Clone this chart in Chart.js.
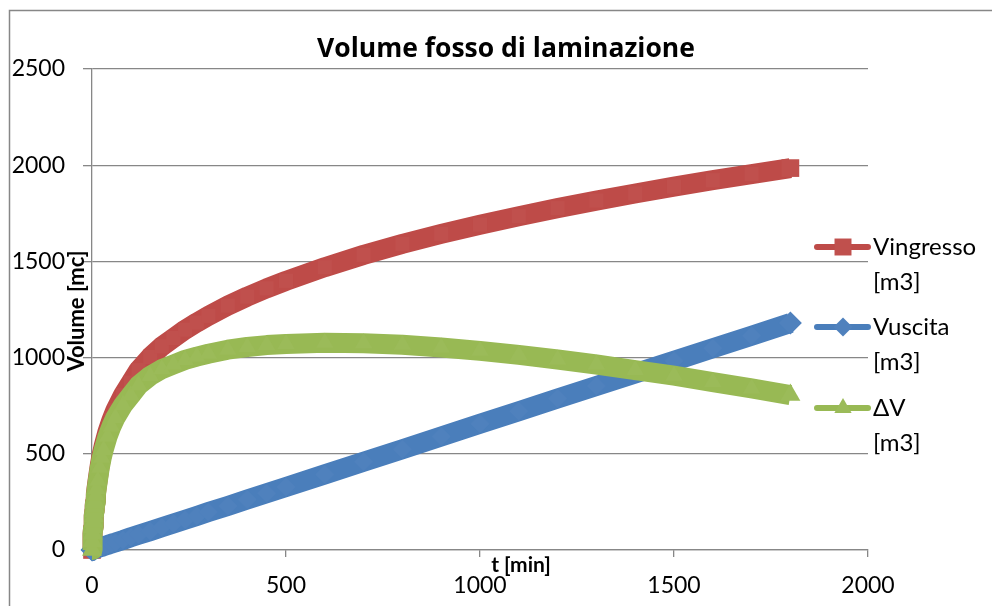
<!DOCTYPE html>
<html>
<head>
<meta charset="utf-8">
<script src="https://cdn.jsdelivr.net/npm/chart.js@4.4.1/dist/chart.umd.min.js"></script>
<style>
  html, body { margin: 0; padding: 0; background: #ffffff; }
  #wrap { width: 992px; height: 606px; position: relative; }
</style>
</head>
<body>
<div id="wrap"><canvas id="c" width="992" height="606"></canvas></div>
<script>
// Time steps [min]
const tMin = [0, 1, 2, 3, 4, 5, 6, 7, 8, 10, 12, 15, 20, 25, 30, 40, 50, 60, 80, 100, 120,
  150, 180, 210, 240, 270, 300, 350, 400, 450, 500, 600, 700, 800, 900, 1000,
  1100, 1200, 1300, 1400, 1500, 1600, 1700, 1800];
// Inflow volume [m3]
const vIngresso = [0, 45, 85, 120, 150, 178, 205, 230, 252, 292, 325, 370, 440, 495, 540, 615, 675, 725, 805, 870, 935,
  1003, 1058, 1102, 1145, 1182, 1217, 1270, 1317, 1360, 1399, 1470, 1534, 1591, 1643, 1691,
  1735, 1777, 1816, 1853, 1889, 1922, 1954, 1985];
// Outflow volume [m3]
const vUscita = [0, 1, 1, 2, 3, 3, 4, 5, 5, 7, 8, 10, 13, 16, 20, 26, 33, 39, 52, 66, 79,
  98, 118, 138, 157, 177, 197, 229, 262, 295, 328, 393, 459, 524, 590, 656,
  721, 787, 852, 918, 983, 1049, 1114, 1180];
// Stored volume [m3]
const deltaV = [0, 44, 84, 118, 147, 175, 201, 225, 247, 285, 317, 360, 427, 479, 520, 589, 642, 686, 753, 804, 856,
  905, 940, 964, 988, 1005, 1020, 1041, 1055, 1065, 1071, 1077, 1075, 1067, 1053, 1035,
  1014, 990, 964, 935, 906, 873, 840, 805];

const xTicks = [0, 500, 1000, 1500, 2000];
const yTicks = [0, 500, 1000, 1500, 2000, 2500];
const seriesNames = [['Vingresso', '[m3]'], ['Vuscita', '[m3]'], ['\u0394V', '[m3]']];
const chartTitle = 'Volume fosso di laminazione';
const xTitle = 't [min]';
const yTitle = 'Volume [mc]';

const FONT = 'Lato, "Open Sans", sans-serif';
const TITLE_FONT = '"Open Sans", Lato, sans-serif';
const GRID = '#878787';
const colors = [
  { line: '#BE4B48', mark: '#C0504D', style: 'rect', r: 12.5, rIn: 10 },
  { line: '#4A7EBB', mark: '#4F81BD', style: 'rectRot', r: 11.5, rIn: 9.5 },
  { line: '#98B954', mark: '#9BBB59', style: 'triangle', r: 11.5, rIn: 10 }
];

function pts(vals) { return tMin.map((t, i) => ({ x: t, y: vals[i] })); }

const last = tMin.length - 1;
const seriesVals = [vIngresso, vUscita, deltaV];
const datasets = seriesVals.map((vals, i) => ({
  label: seriesNames[i].join(' '),
  data: pts(vals),
  showLine: true,
  borderColor: colors[i].line,
  borderWidth: 20,
  borderJoinStyle: 'round',
  backgroundColor: colors[i].mark,
  pointBackgroundColor: colors[i].mark,
  pointBorderColor: colors[i].mark,
  pointBorderWidth: 0,
  pointStyle: colors[i].style,
  // markers merge into the thick band; the end markers keep their full size
  pointRadius: c => (c.dataIndex === last || c.dataIndex < 9) ? colors[i].r : colors[i].rIn,
  pointHoverRadius: colors[i].r,
  clip: false,
  order: 2 - i
}));

function marker(ctx, style, x, y, r, color) {
  ctx.save();
  ctx.fillStyle = color;
  ctx.beginPath();
  if (style === 'rect') {
    const s = r * Math.SQRT1_2;
    ctx.rect(x - s, y - s, 2 * s, 2 * s);
  } else if (style === 'rectRot') {
    ctx.moveTo(x, y - r); ctx.lineTo(x + r, y); ctx.lineTo(x, y + r); ctx.lineTo(x - r, y);
    ctx.closePath();
  } else {
    const a = Math.PI * 2 / 3;
    ctx.moveTo(x, y - r);
    ctx.lineTo(x + Math.sin(a) * r, y - Math.cos(a) * r);
    ctx.lineTo(x + Math.sin(2 * a) * r, y - Math.cos(2 * a) * r);
    ctx.closePath();
  }
  ctx.fill();
  ctx.restore();
}

const decor = {
  id: 'decor',
  beforeDraw(chart) {
    const ctx = chart.ctx;
    ctx.save();
    ctx.fillStyle = '#ffffff';
    ctx.fillRect(0, 0, chart.width, chart.height);
    ctx.strokeStyle = GRID;
    ctx.lineWidth = 1.5;
    ctx.strokeRect(9.5, 10.5, 1100, 700);
    ctx.restore();
  },
  afterDraw(chart) {
    const ctx = chart.ctx;
    ctx.save();
    ctx.fillStyle = '#000000';
    // chart title
    ctx.font = 'bold 26.5px ' + TITLE_FONT;
    ctx.textAlign = 'center';
    ctx.textBaseline = 'middle';
    ctx.fillText(chartTitle, 506, 49);
    // axis titles
    ctx.font = 'bold 21px ' + FONT;
    ctx.fillText(xTitle, 521, 565);
    ctx.save();
    ctx.translate(77, 311);
    ctx.rotate(-Math.PI / 2);
    ctx.font = 'bold 22px ' + FONT;
    ctx.fillText(yTitle, 0, 0);
    ctx.restore();
    // legend
    const rows = [247, 327, 408];
    ctx.font = '24px ' + FONT;
    ctx.textAlign = 'left';
    rows.forEach((y, i) => {
      ctx.strokeStyle = colors[i].line;
      ctx.lineWidth = 6;
      ctx.lineCap = 'round';
      ctx.beginPath();
      ctx.moveTo(817, y);
      ctx.lineTo(868, y);
      ctx.stroke();
      marker(ctx, colors[i].style, 843, y, colors[i].style === 'rect' ? 12 : (colors[i].style === 'rectRot' ? 9.5 : 10), colors[i].mark);
      ctx.fillStyle = '#000000';
      ctx.fillText(seriesNames[i][0], 873, y);
      ctx.fillText(seriesNames[i][1], 873, y + 35);
    });
    ctx.restore();
  }
};

new Chart(document.getElementById('c'), {
  type: 'scatter',
  data: { datasets },
  options: {
    responsive: false,
    devicePixelRatio: 1,
    animation: false,
    layout: { padding: { left: 0, top: 69, right: 124, bottom: 0 } },
    plugins: { legend: { display: false }, tooltip: { enabled: false }, title: { display: false } },
    scales: {
      x: {
        type: 'linear',
        min: xTicks[0],
        max: xTicks[xTicks.length - 1],
        afterFit(scale) { scale.height = 56; },
        afterBuildTicks(scale) { scale.ticks = xTicks.map(v => ({ value: v })); },
        ticks: { color: '#000', font: { family: FONT, size: 23 }, padding: 15, maxRotation: 0,
          callback: v => String(v) },
        grid: { drawOnChartArea: false, drawTicks: true, tickLength: 7, color: GRID, lineWidth: 1.3 },
        border: { display: true, color: GRID, width: 1.3 }
      },
      y: {
        type: 'linear',
        min: yTicks[0],
        max: yTicks[yTicks.length - 1],
        afterFit(scale) { scale.width = 92; },
        afterBuildTicks(scale) { scale.ticks = yTicks.map(v => ({ value: v })); },
        ticks: { color: '#000', font: { family: FONT, size: 23 }, padding: 18,
          callback: v => String(v) },
        grid: { drawOnChartArea: true, drawTicks: true, tickLength: 9, color: GRID, lineWidth: 1.3 },
        border: { display: true, color: GRID, width: 1.3 }
      }
    }
  },
  plugins: [decor]
});
</script>
</body>
</html>
